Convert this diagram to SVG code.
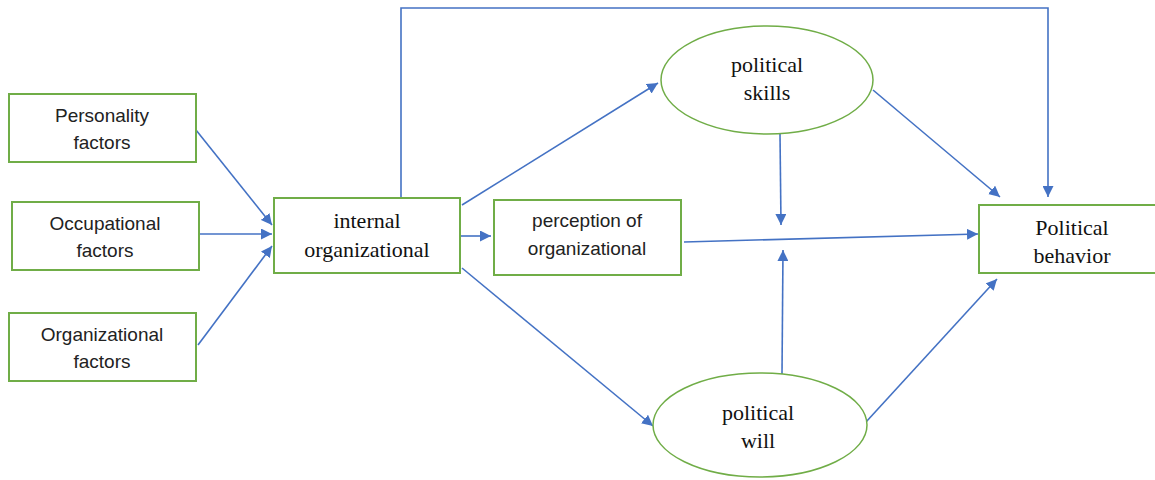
<svg xmlns="http://www.w3.org/2000/svg" width="1155" height="480" viewBox="0 0 1155 480">
<defs>
<marker id="ah" viewBox="0 0 10 10" refX="10" refY="5" markerWidth="11" markerHeight="11" markerUnits="userSpaceOnUse" orient="auto">
<path d="M0,0 L10,5 L0,10 z" fill="#4472C4"/>
</marker>
<style>
.box{fill:#fff;stroke:#70AD47;stroke-width:2}
.ell{fill:#fff;stroke:#70AD47;stroke-width:1.5}
.c{fill:none;stroke:#4472C4;stroke-width:1.6;marker-end:url(#ah)}
.sans{font-family:"Liberation Sans",Arial,sans-serif;font-size:19px;fill:#222;text-anchor:middle}
.serif{font-family:"Liberation Serif","Times New Roman",serif;font-size:22px;fill:#111;text-anchor:middle}
</style>
</defs>
<rect width="1155" height="480" fill="#fff"/>
<g id="connectors">
<line class="c" x1="196" y1="130" x2="272" y2="225"/>
<line class="c" x1="199" y1="234" x2="272" y2="234"/>
<line class="c" x1="198" y1="345" x2="272" y2="246"/>
<path class="c" d="M401,198 V8 H1048 V197"/>
<line class="c" x1="460" y1="236" x2="491" y2="236"/>
<line class="c" x1="462" y1="205" x2="658" y2="83"/>
<line class="c" x1="462" y1="268" x2="653" y2="426"/>
<line class="c" x1="684" y1="242" x2="978" y2="234"/>
<line class="c" x1="780" y1="134" x2="781" y2="225"/>
<line class="c" x1="782" y1="374" x2="783" y2="250"/>
<line class="c" x1="873" y1="90" x2="1000" y2="197"/>
<line class="c" x1="866" y1="422" x2="997" y2="279"/>
</g>
<g id="personality">
<rect class="box" x="9" y="94" width="187" height="68"/>
<text class="sans" x="102" y="122">Personality</text>
<text class="sans" x="102" y="149">factors</text>
</g>
<g id="occupational">
<rect class="box" x="12" y="202" width="187" height="68"/>
<text class="sans" x="105" y="230">Occupational</text>
<text class="sans" x="105" y="257">factors</text>
</g>
<g id="organizational">
<rect class="box" x="9" y="313" width="187" height="68"/>
<text class="sans" x="102" y="341">Organizational</text>
<text class="sans" x="102" y="368">factors</text>
</g>
<g id="internal">
<rect class="box" x="274" y="198" width="186" height="75"/>
<text class="serif" x="367" y="228">internal</text>
<text class="serif" x="367" y="257">organizational</text>
</g>
<g id="perception">
<rect class="box" x="494" y="200" width="187" height="75"/>
<text class="sans" x="587" y="227">perception of</text>
<text class="sans" x="587" y="255">organizational</text>
</g>
<g id="skills">
<ellipse class="ell" cx="767" cy="80" rx="106" ry="54"/>
<text class="serif" x="767" y="72">political</text>
<text class="serif" x="767" y="100">skills</text>
</g>
<g id="will">
<ellipse class="ell" cx="760" cy="425" rx="107" ry="52"/>
<text class="serif" x="758" y="420">political</text>
<text class="serif" x="758" y="448">will</text>
</g>
<g id="behavior">
<rect class="box" x="979" y="205" width="190" height="68"/>
<text class="serif" x="1072" y="235">Political</text>
<text class="serif" x="1072" y="263">behavior</text>
</g>
</svg>
